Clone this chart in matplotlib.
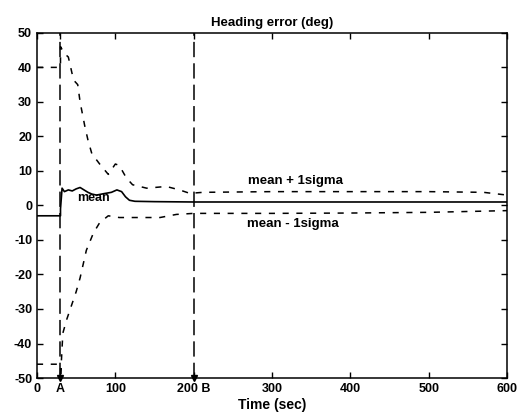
import matplotlib.pyplot as plt

# tempos dos eventos
t_A = 30
t_B = 200

# media
mean_t = [0, 30, 30, 32, 35, 40, 45, 50, 55, 60, 65, 70, 76, 85, 95, 102, 108, 113, 118, 125, 150, 200, 300, 400, 500, 600]
mean_v = [-3, -3, -1, 5, 4, 4.5, 4.2, 4.8, 5.2, 4.5, 3.8, 3.3, 3.0, 3.4, 3.8, 4.5, 4.0, 2.5, 1.5, 1.2, 1.1, 1.0, 1.0, 1.0, 1.0, 1.0]

# media + 1 sigma
upper_t = [0, 30, 30, 35, 40, 45, 48, 52, 55, 61, 65, 70, 80, 91, 100, 105, 114, 122, 140, 165, 182, 195, 212, 300, 400, 500, 570, 600]
upper_v = [40, 40, 46, 44, 43, 38, 36, 35, 30, 23, 19, 15, 12, 9, 12, 11.6, 8, 6, 5, 5.5, 4.5, 3.5, 3.8, 4, 4, 4, 3.8, 3]

# media - 1 sigma
lower_t = [0, 30, 30, 33, 38, 44, 50, 55, 63, 72, 80, 91, 105, 135, 157, 178, 200, 300, 400, 500, 600]
lower_v = [-46, -46, -50, -37, -33, -29, -25, -21, -13, -8, -5, -3, -3.5, -3.5, -3.5, -2.6, -2.3, -2.3, -2.2, -2, -1.5]

xticks = [0, t_A, 100, 200, 300, 400, 500, 600]
xtick_labels = ['0', 'A', '100', '200 B', '300', '400', '500', '600']
yticks = [-50, -40, -30, -20, -10, 0, 10, 20, 30, 40, 50]

plt.rcParams['font.family'] = ['Liberation Sans', 'DejaVu Sans']
plt.rcParams['font.weight'] = 'bold'
plt.rcParams['axes.unicode_minus'] = False

fig = plt.figure(figsize=(5.24, 4.16), dpi=100)
ax = fig.add_axes([0.0706, 0.0913, 0.897, 0.8297])

ax.plot(mean_t, mean_v, c='black', lw=1.2)
ax.plot(upper_t, upper_v, c='black', lw=1.1, ls=(0, (4, 5)))
ax.plot(lower_t, lower_v, c='black', lw=1.1, ls=(0, (4, 5)))

# linhas verticais dos eventos
for t in [t_A, t_B]:
    ax.plot([t, t], [-50, 50], c='black', lw=1.1, ls=(0, (10, 4)))
    ax.plot([t], [-50], marker='v', c='black', ms=5, clip_on=False)

ax.text(72, 2.3, 'mean', fontsize=9, ha='center', va='center', fontweight='bold')
ax.text(330, 7.2, 'mean + 1sigma', fontsize=9.5, ha='center', va='center', fontweight='bold')
ax.text(326, -5.5, 'mean - 1sigma', fontsize=9.5, ha='center', va='center', fontweight='bold')

ax.set_xlim(0, 600)
ax.set_ylim(-50, 50)
ax.set_xticks(xticks)
ax.set_xticklabels(xtick_labels)
ax.set_yticks(yticks)
ax.tick_params(direction='in', top=True, right=True, labelsize=9, length=4, width=1)
for s in ax.spines.values():
    s.set_linewidth(1.1)

ax.set_title('Heading error (deg)', fontsize=9.5, fontweight='bold', pad=5)
ax.set_xlabel('Time (sec)', fontsize=10, fontweight='bold', labelpad=2)

fig.savefig('out.png', dpi=100)
